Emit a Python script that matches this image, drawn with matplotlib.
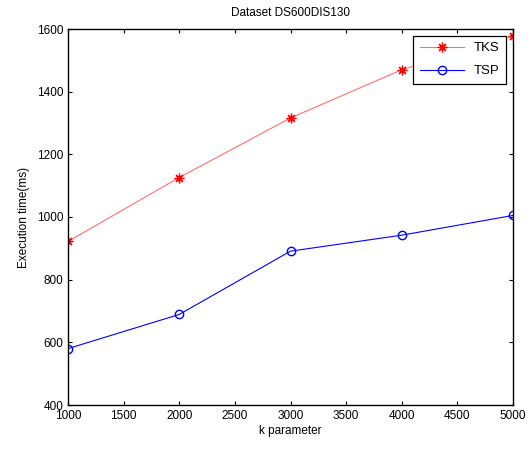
import matplotlib
matplotlib.use("Agg")
import matplotlib.pyplot as plt

k_values = [1000, 2000, 3000, 4000, 5000]
tks_time = [922, 1126, 1316, 1470, 1578]
tsp_time = [580, 689, 891, 942, 1005]

plt.rcParams["font.family"] = ["Liberation Sans", "DejaVu Sans"]
plt.rcParams["font.size"] = 8

fig = plt.figure(figsize=(5.31, 4.5), dpi=100)
ax = fig.add_axes([68 / 531, 45 / 450, 445 / 531, 376 / 450])

ax.plot(k_values, tks_time, color="#ff7070", lw=0.8, marker=(8, 2, 0), ms=7,
        mec="red", mew=0.9, label="TKS")
ax.plot(k_values, tsp_time, color="blue", lw=0.8, marker="o", ms=6,
        mec="blue", mfc="none", label="TSP")

ax.set_xlim(1000, 5000)
ax.set_ylim(400, 1600)
ax.set_xticks(range(1000, 5001, 500))
ax.set_yticks(range(400, 1601, 200))
ax.tick_params(direction="in", top=True, right=True, length=3, width=0.8, labelsize=8.5)
for s in ax.spines.values():
    s.set_linewidth(1.0)

ax.set_xlabel("k parameter", fontsize=8.5, labelpad=2)
ax.set_ylabel("Execution time(ms)", fontsize=8.5, labelpad=5)
ax.set_title("Dataset DS600DIS130", fontsize=8.5, pad=9)

leg = ax.legend(loc="upper right", fontsize=9.5, fancybox=False, framealpha=1,
                edgecolor="black", borderaxespad=0.5, handlelength=3.3,
                labelspacing=0.8, borderpad=0.5)
leg.get_frame().set_linewidth(0.9)

fig.savefig("out.png", dpi=100)
